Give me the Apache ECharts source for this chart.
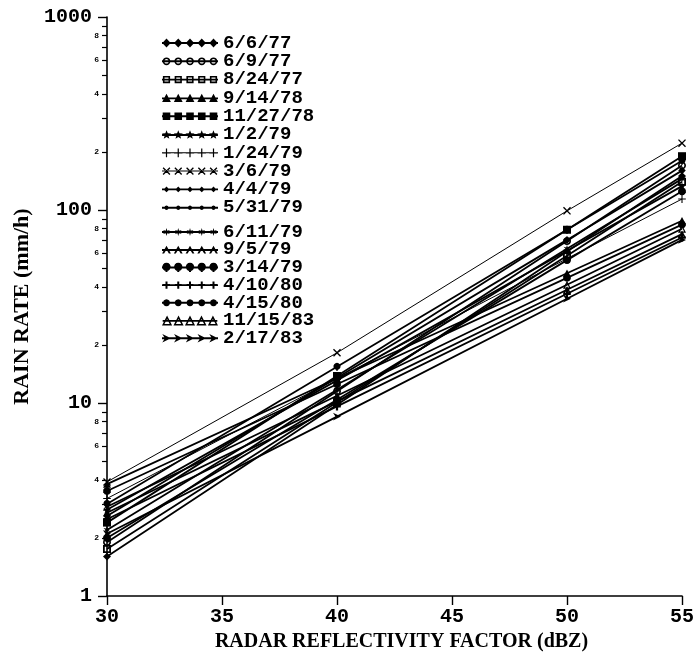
<!DOCTYPE html>
<html>
<head>
<meta charset="utf-8">
<script src="https://cdn.jsdelivr.net/npm/echarts@6/dist/echarts.min.js"></script>
<style>
  html, body { margin: 0; padding: 0; background: #fff; }
  #chart { width: 693px; height: 665px; }
</style>
</head>
<body>
<div id="chart"></div>
<script>
// reflectivity values where the rates were read
const dbz = [30, 40, 50, 55]

const dates = ['6/6/77', '6/9/77', '8/24/77', '9/14/78', '11/27/78', '1/2/79', '1/24/79', '3/6/79', '4/4/79', '5/31/79',
  '6/11/79', '9/5/79', '3/14/79', '4/10/80', '4/15/80', '11/15/83', '2/17/83']

// rain rate (mm/h) per date, one array per dBZ column
const rateAt30 = [2.6, 1.9, 1.75, 3.8, 2.4, 2.8, 3.2, 3.9, 1.6, 3.5, 2.2, 2.7, 3.0, 2.5, 2.0, 2.9, 2.1]
const rateAt40 = [13.5, 11.5, 10.1, 13.4, 13.8, 13.1, 13.4, 18.2, 9.8, 12.5, 11.7, 10.2, 15.4, 9.6, 10.4, 10.9, 8.5]
const rateAt50 = [70, 69, 58, 47, 79, 61.5, 56, 99, 61, 44.5, 63, 38.6, 79, 36.8, 55, 41, 34.7]
const rateAt55 = [160, 170, 140, 88, 190, 133, 114, 222, 150, 84, 145, 75, 180, 72, 125, 80, 70]

const majorTicks = [1, 10, 100, 1000]
const minorTicks = [2, 3, 4, 5, 6, 7, 8, 9, 20, 30, 40, 50, 60, 70, 80, 90, 200, 300, 400, 500, 600, 700, 800, 900]
const minorLabels = [2, 4, 6, 8, 20, 40, 60, 80, 200, 400, 600, 800]

const markerKinds = ['diamond', 'ring', 'box', 'tri', 'square', 'star', 'plus', 'cross', 'dot', 'tick',
  'aster', 'caret', 'club', 'vbar', 'bigdot', 'otri', 'arrow']
const thinLines = ['1/24/79', '3/6/79']

const cols = [rateAt30, rateAt40, rateAt50, rateAt55]

function poly (pts) {
  return 'M' + pts.map(p => p[0].toFixed(2) + ' ' + p[1].toFixed(2)).join(' L') + ' Z '
}
function rectPts (x, y, w, h) {
  return [[x, y], [x + w, y], [x + w, y + h], [x, y + h]]
}
function ngon (cx, cy, r, n) {
  let pts = []
  for (let k = 0; k < n; k++) {
    let a = -Math.PI / 2 + k * 2 * Math.PI / n
    pts.push([cx + r * Math.cos(a), cy + r * Math.sin(a)])
  }
  return pts
}
function star (cx, cy, R, r, n) {
  let pts = []
  for (let k = 0; k < n * 2; k++) {
    let a = -Math.PI / 2 + k * Math.PI / n
    let rr = k % 2 ? r : R
    pts.push([cx + rr * Math.cos(a), cy + rr * Math.sin(a)])
  }
  return pts
}
function bar (x1, y1, x2, y2, t) {
  let dx = x2 - x1
  let dy = y2 - y1
  let l = Math.sqrt(dx * dx + dy * dy)
  let nx = -dy / l * t / 2
  let ny = dx / l * t / 2
  return [[x1 + nx, y1 + ny], [x2 + nx, y2 + ny], [x2 - nx, y2 - ny], [x1 - nx, y1 - ny]]
}

// one marker centred on (cx, 6), roughly 9px tall
function marker (kind, cx) {
  switch (kind) {
    case 'diamond': return poly([[cx, 1.5], [cx + 4.2, 6], [cx, 10.5], [cx - 4.2, 6]])
    case 'ring': return poly(ngon(cx, 6, 3.9, 16)) + poly(ngon(cx, 6, 2.3, 16).reverse())
    case 'box': return poly(rectPts(cx - 3.6, 2.4, 7.2, 7.2)) + poly(rectPts(cx - 2, 4, 4, 4).reverse())
    case 'tri': return poly([[cx, 1.5], [cx + 4.4, 9.6], [cx - 4.4, 9.6]])
    case 'square': return poly(rectPts(cx - 3.8, 2.2, 7.6, 7.6))
    case 'star': return poly(star(cx, 6, 4.8, 2, 5))
    case 'plus': return poly(rectPts(cx - 0.6, 1.6, 1.2, 8.8)) + poly(rectPts(cx - 4.2, 5.4, 8.4, 1.2))
    case 'cross': return poly(bar(cx - 3.4, 2.6, cx + 3.4, 9.4, 1.3)) + poly(bar(cx - 3.4, 9.4, cx + 3.4, 2.6, 1.3))
    case 'dot': return poly([[cx, 3.2], [cx + 2.9, 6], [cx, 8.8], [cx - 2.9, 6]])
    case 'tick': return poly(ngon(cx, 6, 2.2, 10))
    case 'aster': return poly(star(cx, 6, 4, 1.5, 6))
    case 'caret': return poly([[cx - 4.4, 9.6], [cx, 1.8], [cx + 4.4, 9.6], [cx + 2.4, 9.6], [cx, 5.4], [cx - 2.4, 9.6]])
    case 'club': return poly(ngon(cx, 5.4, 4.2, 14)) + poly(rectPts(cx - 1, 5, 2, 5.6))
    case 'vbar': return poly(rectPts(cx - 1, 2.4, 2, 7.2)) + poly(rectPts(cx - 3.4, 5, 6.8, 2))
    case 'bigdot': return poly(ngon(cx, 6, 3.5, 14))
    case 'otri': return poly([[cx, 0.4], [cx + 5.2, 10.8], [cx - 5.2, 10.8]]) +
      poly([[cx, 4], [cx + 2.7, 9.2], [cx - 2.7, 9.2]].reverse())
    case 'arrow': return poly([[cx - 4.2, 1.8], [cx + 4.4, 6], [cx - 4.2, 10.2], [cx - 1.6, 6]])
  }
  return ''
}

function legendIcon (kind, thin) {
  let t = thin ? 1 : 1.9
  let d = poly(rectPts(0, 6 - t / 2, 56, t))
  ;[4.5, 16.25, 28, 39.75, 51.5].forEach(cx => { d += marker(kind, cx) })
  return 'path://' + d
}

const serif = "'Liberation Serif', serif"
const mono = "'Liberation Mono', monospace"

let series = dates.map((name, i) => {
  let thin = thinLines.indexOf(name) >= 0
  return {
    name,
    type: 'line',
    xAxisIndex: 0,
    yAxisIndex: 0,
    data: dbz.map((x, j) => [x, cols[j][i]]),
    symbol: 'path://' + marker(markerKinds[i], 0),
    symbolSize: 8,
    symbolKeepAspect: true,
    lineStyle: { color: '#000', width: thin ? 1 : 1.8 },
    itemStyle: { color: '#000' },
    z: thin ? 3 : 2
  }
})

function legendBlock (names, top, gap) {
  return {
    orient: 'vertical',
    left: 162,
    top,
    padding: 0,
    itemGap: gap,
    itemWidth: 56,
    itemHeight: 12,
    selectedMode: false,
    symbolKeepAspect: true,
    itemStyle: { borderWidth: 0 },
    textStyle: { fontFamily: mono, fontWeight: 'bold', fontSize: 19, color: '#000' },
    data: names.map(n => {
      let i = dates.indexOf(n)
      return { name: n, icon: legendIcon(markerKinds[i], thinLines.indexOf(n) >= 0) }
    })
  }
}

let myChart = echarts.init(document.getElementById('chart'))
myChart.setOption({
  backgroundColor: '#fff',
  animation: false,
  grid: {
    left: 107,
    right: 11,
    top: 17,
    bottom: 69,
    containLabel: false,
    outerBoundsMode: 'none'
  },
  legend: [
    legendBlock(dates.slice(0, 10), 33.5, -0.7),
    legendBlock(dates.slice(10), 222.5, -1.3)
  ],
  xAxis: {
    type: 'value',
    min: 30,
    max: 55,
    interval: 5,
    name: 'RADAR REFLECTIVITY FACTOR (dBZ)',
    nameLocation: 'middle',
    nameGap: 35,
    nameTextStyle: { fontFamily: serif, fontWeight: 'bold', fontSize: 20, color: '#000', padding: [0, 0, 0, 14] },
    axisLine: { lineStyle: { color: '#000', width: 1.6 } },
    axisTick: { length: 9, lineStyle: { color: '#000', width: 1.4 } },
    axisLabel: { margin: 11, fontFamily: mono, fontWeight: 'bold', fontSize: 20, color: '#000' },
    splitLine: { show: false }
  },
  yAxis: [{
    type: 'log',
    logBase: 10,
    min: 1,
    max: 1000,
    name: 'RAIN RATE (mm/h)',
    nameLocation: 'middle',
    nameRotate: 90,
    nameGap: 73,
    nameTextStyle: { fontFamily: serif, fontWeight: 'bold', fontSize: 22, color: '#000' },
    axisLine: { show: true, lineStyle: { color: '#000', width: 1.6 } },
    axisTick: { length: 9, lineStyle: { color: '#000', width: 1.4 } },
    axisLabel: {
      margin: 15,
      fontFamily: mono,
      fontWeight: 'bold',
      fontSize: 20,
      color: '#000',
      formatter: v => majorTicks.indexOf(Math.round(v)) >= 0 ? String(Math.round(v)) : ''
    },
    splitLine: { show: false },
    minorTick: { show: false }
  }, {
    // minor ticks 2..9 in each decade, drawn in log10 space
    type: 'value',
    min: 0,
    max: 3,
    position: 'left',
    axisLine: { show: false },
    axisTick: {
      show: true,
      length: 5,
      customValues: minorTicks.map(v => Math.log10(v)),
      lineStyle: { color: '#000', width: 1.2 }
    },
    axisLabel: {
      show: true,
      margin: 8,
      customValues: minorLabels.map(v => Math.log10(v)),
      fontFamily: mono,
      fontWeight: 'bold',
      fontSize: 8,
      color: '#000',
      formatter: v => String(Math.round(Math.pow(10, v - Math.floor(v + 1e-9))))
    },
    splitLine: { show: false }
  }],
  series
})
</script>
</body>
</html>
